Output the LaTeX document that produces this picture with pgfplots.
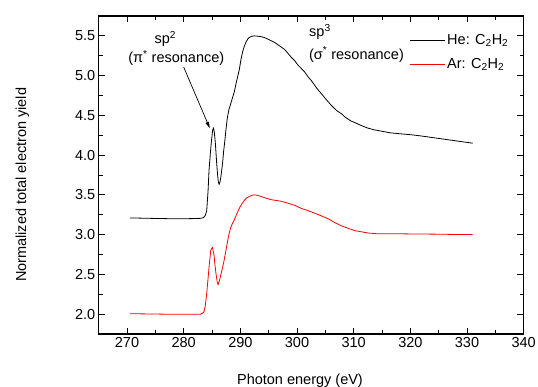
\documentclass[border=0pt]{standalone}
\usepackage{fontspec}
\setmainfont{Liberation Sans}
\usepackage{pgfplots}
\pgfplotsset{compat=1.18}
\usetikzlibrary{arrows.meta}
\newcommand{\fs}{\fontsize{14.5bp}{17bp}\selectfont}
\begin{document}
\begin{tikzpicture}
\begin{axis}[
  scale only axis, width=425bp, height=318bp,
  xmin=265, xmax=340, ymin=1.75, ymax=5.75,
  xtick={270,280,...,340}, minor xtick={275,285,...,335},
  ytick={2.0,2.5,...,5.5}, minor ytick={2.25,2.75,...,5.25},
  /pgf/number format/assume math mode=true,
  yticklabel style={/pgf/number format/.cd, fixed, fixed zerofill, precision=1},
  xticklabel style={/pgf/number format/.cd, fixed, precision=0},
  tick label style={font=\fs},
  label style={font=\fs},
  tick align=inside, xtick pos=both, ytick pos=both,
  xticklabel pos=lower, yticklabel pos=left,
  major tick length=6.5bp, minor tick length=4bp,
  every tick/.style={black, line width=0.8bp},
  axis line style={line width=1.3bp},
  xlabel={Photon energy (eV)},
  ylabel={Normalized total electron yield},
  xlabel style={at={(axis description cs:0.4736,-0.159)}, anchor=base},
  ylabel style={at={(axis description cs:-0.171,0.469)}, anchor=base, rotate=0},
  legend style={draw=none, fill=none, font=\fs, at={(axis cs:319.8,5.55)}, anchor=north west, inner sep=0pt, row sep=9bp},
  legend cell align=left,
  legend image code/.code={\draw[#1] (0bp,0bp) -- (35bp,0bp);},
]
\addplot[black, line width=0.8bp, line join=round] coordinates {
(270.5,3.21) (272,3.208) (274,3.205) (276,3.202) (278,3.200) (280,3.200) (282,3.202) (283,3.205)
(283.5,3.215) (283.8,3.24) (284.06,3.30) (284.3,3.55) (284.47,3.81) (284.7,4.02) (284.9,4.18)
(285.1,4.31) (285.25,4.345) (285.4,4.29) (285.6,4.14) (285.8,3.92) (285.96,3.77) (286.1,3.67)
(286.24,3.63) (286.4,3.66) (286.55,3.72) (286.85,3.89) (287.05,4.05) (287.26,4.18) (287.5,4.35)
(287.73,4.48) (288.0,4.58) (288.32,4.65) (288.6,4.72) (288.91,4.79) (289.3,4.92) (289.8,5.07)
(290.1,5.20) (290.4,5.30) (290.7,5.37) (290.99,5.42) (291.3,5.46) (291.57,5.48) (292,5.495)
(292.46,5.50) (293,5.497) (293.65,5.49) (294.2,5.48) (294.84,5.46) (295.4,5.44) (296.0,5.42)
(296.6,5.39) (297.2,5.36) (297.8,5.33) (298.4,5.28) (299.0,5.23) (299.56,5.19) (300.2,5.13)
(300.75,5.09) (301.3,5.05) (302,4.98) (302.5,4.94) (303.5,4.84) (304.9,4.72) (306,4.63)
(307,4.56) (307.86,4.52) (308.45,4.48) (309.5,4.43) (310.5,4.40) (311.4,4.37) (312.5,4.34)
(313.5,4.32) (315,4.30) (316.5,4.28) (318,4.27) (320.3,4.255) (322,4.24) (324,4.22) (325,4.21)
(327,4.19) (329,4.17) (331,4.15)
};
\addlegendentry{He: C\textsubscript{2}H\textsubscript{2}}
\addplot[red, line width=0.8bp, line join=round] coordinates {
(270.5,2.005) (273,2.003) (276,2.0) (279,1.998) (282,1.998) (283,2.0) (283.3,2.01) (283.58,2.03)
(283.8,2.10) (284.06,2.26) (284.3,2.45) (284.47,2.59) (284.77,2.80) (285.07,2.84) (285.36,2.74)
(285.5,2.63) (285.7,2.51) (285.9,2.41) (286.07,2.37) (286.3,2.42) (286.67,2.53) (287.0,2.63)
(287.3,2.74) (287.73,2.91) (288.0,3.01) (288.3,3.09) (288.6,3.14) (288.9,3.18) (289.3,3.25)
(289.8,3.33) (290.2,3.38) (290.7,3.43) (291.1,3.46) (291.57,3.48) (292.0,3.495) (292.46,3.50)
(293,3.495) (293.65,3.48) (294.5,3.46) (295.4,3.44) (296.3,3.43) (297.2,3.42) (298.4,3.395)
(299.56,3.37) (300.75,3.33) (302,3.30) (303.1,3.27) (304.3,3.235) (305.5,3.20) (306.7,3.15)
(307.86,3.11) (309,3.08) (310.2,3.05) (311.4,3.035) (312.6,3.02) (314,3.012) (315,3.01)
(318.5,3.01) (321,3.008) (324.4,3.006) (327,3.003) (331,3.0)
};
\addlegendentry{Ar: C\textsubscript{2}H\textsubscript{2}}
\node[anchor=base west, inner sep=0pt, font=\fs] at (axis cs:274.82,5.405) {sp\textsuperscript{2}};
\node[anchor=base west, inner sep=0pt, font=\fs] at (axis cs:270.2,5.16) {(π\textsuperscript{*} resonance)};
\node[anchor=base west, inner sep=0pt, font=\fs] at (axis cs:302.12,5.493) {sp\textsuperscript{3}};
\node[anchor=base west, inner sep=0pt, font=\fs] at (axis cs:302.09,5.208) {(σ\textsuperscript{*} resonance)};
\draw[line width=0.7bp, -{Latex[length=7bp,width=4bp]}] (axis cs:280.0,5.107) -- (axis cs:284.64,4.332);
\coordinate (SW) at (rel axis cs:0,0);
\end{axis}
\pgfresetboundingbox
\path (SW) ++(-98.7bp,-53bp) rectangle ++(538bp,387bp);
\end{tikzpicture}
\end{document}
